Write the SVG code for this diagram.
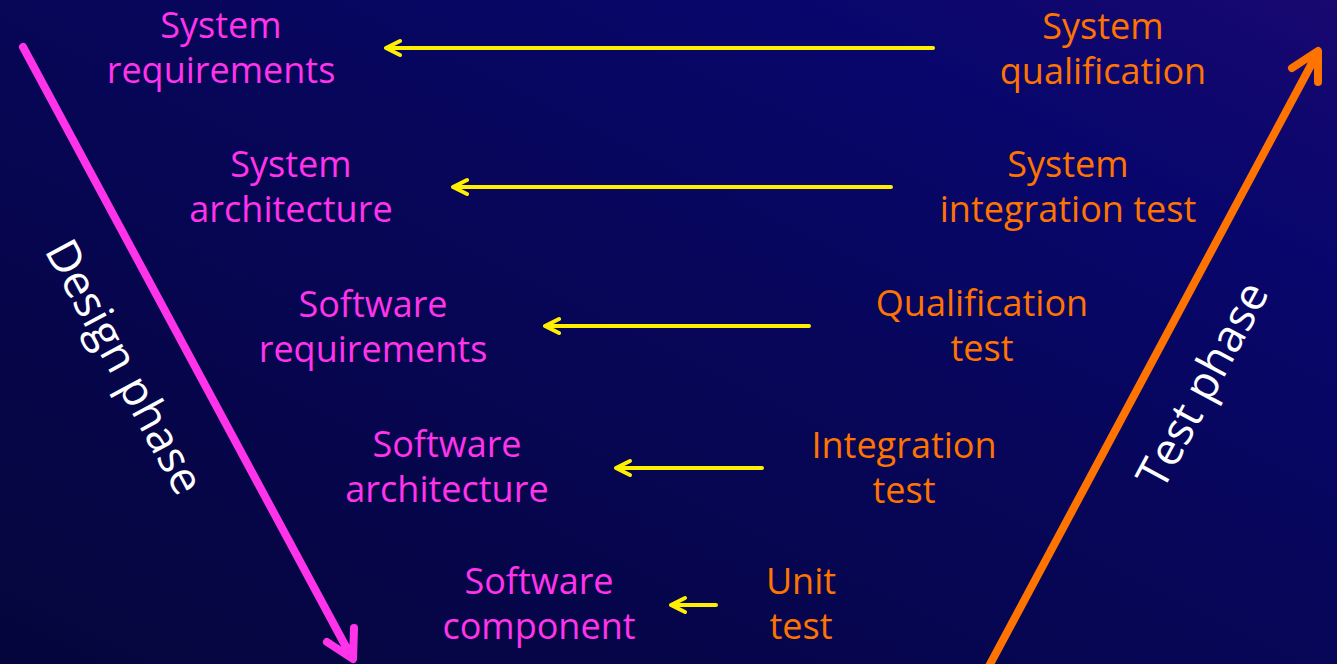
<svg xmlns="http://www.w3.org/2000/svg" width="1337" height="664" viewBox="0 0 1337 664">
<defs>
<linearGradient id="bg" x1="0" y1="1" x2="1" y2="0">
<stop offset="0" stop-color="#05053c"/>
<stop offset="0.55" stop-color="#07065a"/>
<stop offset="0.8" stop-color="#08066c"/>
<stop offset="1" stop-color="#180870"/>
</linearGradient>
<style>
.d{font-family:"Open Sans","Noto Sans",sans-serif;font-size:36px;fill:#ff33ea;text-anchor:middle}
.t{font-family:"Open Sans","Noto Sans",sans-serif;font-size:36px;fill:#ff7300;text-anchor:middle}
.p{font-family:"Open Sans","Noto Sans",sans-serif;font-size:45px;fill:#ffffff;text-anchor:middle}
.y{stroke:#fff000;stroke-width:4;fill:none;stroke-linecap:round;stroke-linejoin:round}
</style>
</defs>
<rect width="1337" height="664" fill="url(#bg)"/>
<g id="connectors">
<path class="y" d="M933 48H386M400 41L386 48L400 55"/>
<path class="y" d="M891 187H453M467 180L453 187L467 194"/>
<path class="y" d="M809 326H545M559 319L545 326L559 333"/>
<path class="y" d="M762 468H616M630 461L616 468L630 475"/>
<path class="y" d="M716 605H671M685 598L671 605L685 612"/>
</g>
<g id="design-arrow">
<path d="M23 47L352 658M327 642L353 659L354 628" stroke="#ff33ea" stroke-width="8" fill="none" stroke-linecap="round" stroke-linejoin="round"/>
<text class="p" transform="translate(124 367) rotate(61.6)" dy="15">Design phase</text>
</g>
<g id="test-arrow">
<path d="M988 668L1318 52M1292 68L1318 51L1318 82" stroke="#ff7300" stroke-width="8" fill="none" stroke-linecap="round" stroke-linejoin="round"/>
<text class="p" transform="translate(1203 385) rotate(-61.7)" dy="15">Test phase</text>
</g>
<g id="system-requirements"><text class="d" x="221" y="38">System<tspan x="221" dy="45">requirements</tspan></text></g>
<g id="system-architecture"><text class="d" x="291" y="177">System<tspan x="291" dy="45">architecture</tspan></text></g>
<g id="software-requirements"><text class="d" x="373" y="317">Software<tspan x="373" dy="45">requirements</tspan></text></g>
<g id="software-architecture"><text class="d" x="447" y="457">Software<tspan x="447" dy="45">architecture</tspan></text></g>
<g id="software-component"><text class="d" x="539" y="594">Software<tspan x="539" dy="45">component</tspan></text></g>
<g id="system-qualification"><text class="t" x="1103" y="39">System<tspan x="1103" dy="45">qualification</tspan></text></g>
<g id="system-integration-test"><text class="t" x="1068" y="177">System<tspan x="1068" dy="45">integration test</tspan></text></g>
<g id="qualification-test"><text class="t" x="982" y="316">Qualification<tspan x="982" dy="45">test</tspan></text></g>
<g id="integration-test"><text class="t" x="904" y="458">Integration<tspan x="904" dy="45">test</tspan></text></g>
<g id="unit-test"><text class="t" x="801" y="594">Unit<tspan x="801" dy="45">test</tspan></text></g>
</svg>
